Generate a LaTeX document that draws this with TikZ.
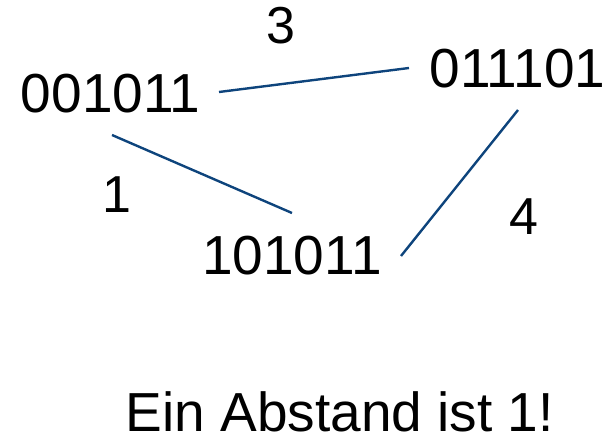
\documentclass[tikz,border=0pt]{standalone}
\usepackage{fontspec}
\setmainfont{Liberation Sans}
\definecolor{edgeblue}{RGB}{14,68,124}
\tikzset{
  word/.style={inner sep=0pt, font=\fontsize{55}{60}\selectfont, anchor=base west},
  dist/.style={inner sep=0pt, font=\fontsize{52}{56}\selectfont, anchor=base},
  edge/.style={draw=edgeblue, line width=2.4pt}
}
\begin{document}
\begin{tikzpicture}[x=1pt,y=-1pt]
  \useasboundingbox (0,0) rectangle (605,435);
  % code words
  \node[word] (a) at (20.7,113) {001011};
  \node[word] (b) at (429.7,88) {011101};
  \node[word] (c) at (202,275) {101011};
  % distances
  \node[dist] (d3) at (281,44) {3};
  \node[dist] (d1) at (117,213) {1};
  \node[dist] (d4) at (524,235) {4};
  % edge end points
  \coordinate (ab1) at (219,92);
  \coordinate (ab2) at (409,68);
  \coordinate (ac1) at (112,135);
  \coordinate (ac2) at (292,213);
  \coordinate (bc1) at (518,110);
  \coordinate (bc2) at (401,256);
  \draw[edge] (ab1) -- (ab2);
  \draw[edge] (ac1) -- (ac2);
  \draw[edge] (bc1) -- (bc2);
  % caption
  \node[word, text depth=0pt] (cap) at (125.7,431) {Ein Abstand ist 1!};
\end{tikzpicture}
\end{document}
